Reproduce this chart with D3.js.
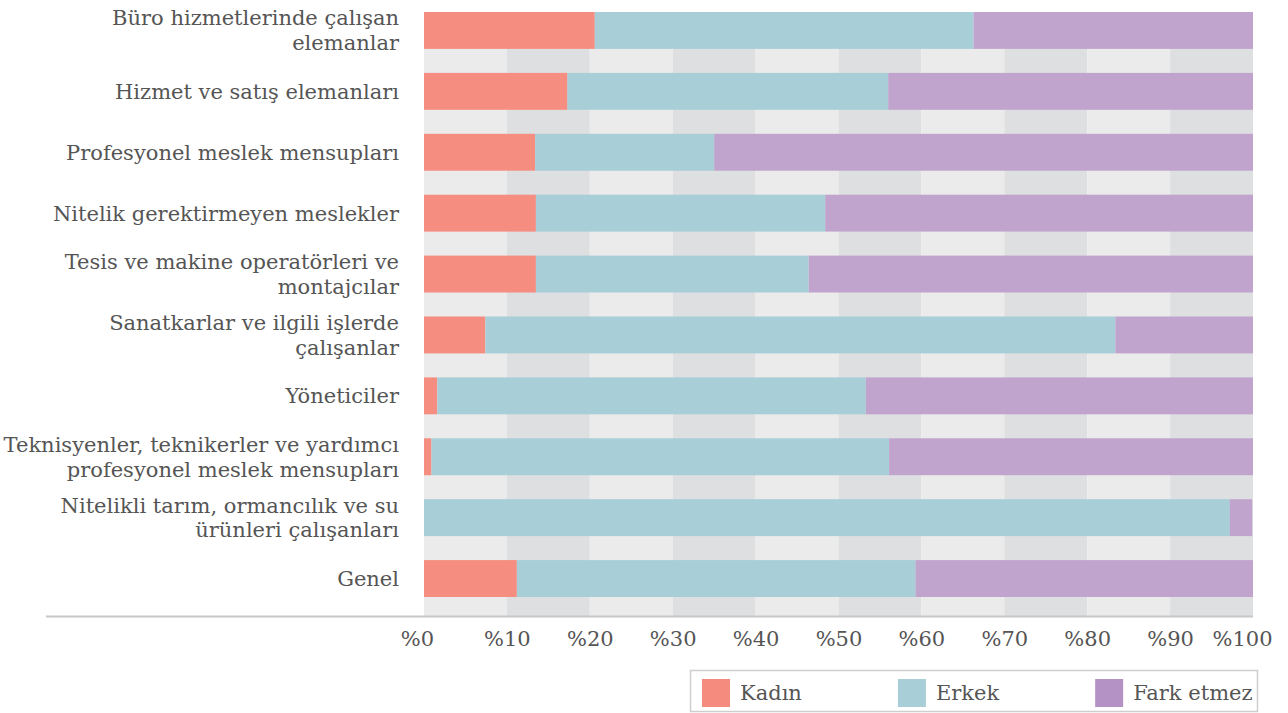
<!DOCTYPE html>
<html>
<head>
<meta charset="utf-8">
<script src="https://cdn.jsdelivr.net/npm/d3@7"></script>
<style>
  body { margin: 0; background: #fff; }
  text { font-family: "DejaVu Serif", serif; fill: #555; }
</style>
</head>
<body>
<script>
//categories (top to bottom)
var categories = [
    ["Büro hizmetlerinde çalışan", "elemanlar"],
    ["Hizmet ve satış elemanları"],
    ["Profesyonel meslek mensupları"],
    ["Nitelik gerektirmeyen meslekler"],
    ["Tesis ve makine operatörleri ve", "montajcılar"],
    ["Sanatkarlar ve ilgili işlerde", "çalışanlar"],
    ["Yöneticiler"],
    ["Teknisyenler, teknikerler ve yardımcı", "profesyonel meslek mensupları"],
    ["Nitelikli tarım, ormancılık ve su", "ürünleri çalışanları"],
    ["Genel"]
];
//series values (percent)
var kadin = [20.6, 17.3, 13.4, 13.5, 13.5, 7.4, 1.6, 0.9, 0, 11.2];
var erkek = [45.7, 38.7, 21.6, 34.9, 32.9, 76.0, 51.7, 55.2, 97.2, 48.1];
var farkEtmez = [33.7, 44.0, 65.0, 51.6, 53.6, 16.6, 46.7, 43.9, 2.7, 40.7];
var seriesNames = ["Kadın", "Erkek", "Fark etmez"];
var barColors = ["#f58d80", "#a8ced8", "#c0a4cd"];
var legendColors = ["#f58b7f", "#a8ced8", "#b492c5"];
var tickValues = [0, 10, 20, 30, 40, 50, 60, 70, 80, 90, 100];
var tickLabels = ["%0", "%10", "%20", "%30", "%40", "%50", "%60", "%70", "%80", "%90", "%100"];

var width = 1288, height = 713;
var plotLeft = 424, plotRight = 1253, plotTop = 12, plotBottom = 616;
var fontSize = "21px";

var svg = d3.select("body").append("svg")
    .attr("width", width)
    .attr("height", height);

var x = d3.scaleLinear().domain([0, 100]).range([plotLeft, plotRight]);
var y = d3.scaleBand()
    .domain(d3.range(categories.length))
    .range([plotTop, 597])
    .paddingInner(0.394)
    .paddingOuter(0);

//background stripes every 10%
svg.selectAll(".stripe")
    .data(d3.range(10))
    .enter()
    .append("rect")
    .attr("class", "stripe")
    .attr("x", function (d) { return x(d * 10); })
    .attr("width", function (d) { return x(d * 10 + 10) - x(d * 10); })
    .attr("y", plotTop)
    .attr("height", plotBottom - plotTop)
    .style("fill", function (d) { return d % 2 == 0 ? "#ebebeb" : "#dedfe0"; });

//stack the data
var rows = categories.map(function (c, i) {
    return { i: i, k: kadin[i], e: erkek[i], f: farkEtmez[i] };
});
var stack = d3.stack().keys(["k", "e", "f"]);
var layers = stack(rows);

svg.selectAll(".layer")
    .data(layers)
    .enter()
    .append("g")
    .attr("class", "layer")
    .style("fill", function (d, i) { return barColors[i]; })
    .selectAll("rect")
    .data(function (d) { return d; })
    .enter()
    .append("rect")
    .attr("x", function (d) { return x(d[0]); })
    .attr("width", function (d) { return Math.max(0, x(d[1]) - x(d[0])); })
    .attr("y", function (d) { return y(d.data.i); })
    .attr("height", y.bandwidth());

//category labels
var labels = svg.selectAll(".catLabel")
    .data(categories)
    .enter()
    .append("text")
    .attr("class", "catLabel")
    .attr("text-anchor", "end")
    .style("font-size", fontSize)
    .attr("transform", function (d, i) {
        return "translate(399," + (y(i) + y.bandwidth() / 2) + ")";
    });
labels.selectAll("tspan")
    .data(function (d) { return d; })
    .enter()
    .append("tspan")
    .attr("x", 0)
    .attr("y", function (d, j, nodes) {
        var n = nodes.length;
        return (j - (n - 1) / 2) * 25;
    })
    .attr("dy", "0.35em")
    .text(function (d) { return d; });

//axis baseline
svg.append("line")
    .attr("x1", 46)
    .attr("x2", plotRight)
    .attr("y1", plotBottom + 0.5)
    .attr("y2", plotBottom + 0.5)
    .style("stroke", "#c8c8c8")
    .style("stroke-width", 2);

//x axis
var xAxis = d3.axisBottom(x)
    .tickValues(tickValues)
    .tickSize(0)
    .tickPadding(13)
    .tickFormat(function (d, i) { return tickLabels[i]; });
var gx = svg.append("g")
    .attr("transform", "translate(0," + (plotBottom + 2) + ")")
    .call(xAxis);
gx.select(".domain").remove();
gx.selectAll("text")
    .style("font-size", fontSize)
    .style("font-family", "DejaVu Serif, serif")
    .style("fill", "#555")
    .attr("text-anchor", function (d) { return d == 100 ? "end" : "middle"; })
    .attr("dx", function (d) { return d == 100 ? "19" : (d == 0 ? "-7" : "0"); });

//legend
var legend = svg.append("g");
legend.append("rect")
    .attr("x", 690.5)
    .attr("y", 670.5)
    .attr("width", 567)
    .attr("height", 41)
    .style("fill", "#fff")
    .style("stroke", "#cfcfcf")
    .style("stroke-width", 1.5);

var lx = 702;
seriesNames.forEach(function (name, i) {
    var item = legend.append("g").attr("transform", "translate(" + lx + ",679)");
    item.append("rect")
        .attr("width", 28)
        .attr("height", 28)
        .style("fill", legendColors[i]);
    var t = item.append("text")
        .attr("x", 38)
        .attr("y", 14)
        .attr("dy", "0.35em")
        .style("font-size", fontSize)
        .text(name);
    lx += 38 + t.node().getComputedTextLength() + 96;
});
</script>
</body>
</html>
